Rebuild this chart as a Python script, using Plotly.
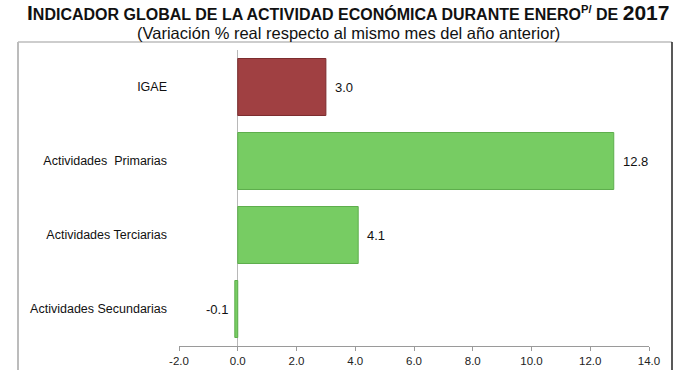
import plotly.graph_objects as go

categories = ["IGAE", "Actividades  Primarias", "Actividades Terciarias", "Actividades Secundarias"]
values = [3.0, 12.8, 4.1, -0.1]
value_labels = ["3.0", "12.8", "4.1", "-0.1"]
bar_colors = ["#a04042", "#77cc63", "#77cc63", "#77cc63"]
line_colors = ["#7c2c2e", "#5eae4c", "#5eae4c", "#5eae4c"]
tick_vals = [-2, 0, 2, 4, 6, 8, 10, 12, 14]
tick_text = ["-2.0", "0.0", "2.0", "4.0", "6.0", "8.0", "10.0", "12.0", "14.0"]

FONT = "Liberation Sans, Arial, sans-serif"

W, H = 700, 370

fig = go.Figure()
fig.add_trace(go.Bar(
    y=categories, x=values, orientation="h",
    marker=dict(color=bar_colors, line=dict(color=line_colors, width=1)),
    width=0.77,
    hoverinfo="skip",
))

# plot area in reference pixel coords: x 179..649, y 50..346
L, R, T, B = 179, W - 649, 50, H - 346
PW = W - L - R
PH = H - T - B

def px_x(x):
    return (x - L) / PW

def px_y(y):
    return (H - B - y) / PH

value_annotations = [
    dict(x=v, y=c, xref="x", yref="y", text=t, showarrow=False,
         xanchor="left" if v >= 0 else "right", yanchor="middle",
         xshift=7 if v >= 0 else -5,
         font=dict(size=13, family=FONT, color="#111111"))
    for c, v, t in zip(categories, values, value_labels)
]

fig.update_layout(
    width=W, height=H,
    margin=dict(l=L, r=R, t=T, b=B, autoexpand=False),
    paper_bgcolor="white", plot_bgcolor="white",
    showlegend=False,
    font=dict(family=FONT, color="#111111"),
    xaxis=dict(
        range=[-2, 14], tickvals=tick_vals, ticktext=tick_text,
        showgrid=False, zeroline=True, zerolinecolor="#b8b8b8", zerolinewidth=1,
        showline=True, linecolor="#9a9a9a", linewidth=1,
        ticks="outside", ticklen=4, tickcolor="#9a9a9a",
        tickfont=dict(size=11.5, color="#222222", family=FONT),
        automargin=False, fixedrange=True,
    ),
    yaxis=dict(
        categoryorder="array", categoryarray=categories, autorange="reversed",
        showgrid=False, zeroline=False, showline=False, ticks="",
        ticklabelstandoff=11,
        tickfont=dict(size=12.5, color="#111111", family=FONT),
        automargin=False, fixedrange=True,
    ),
    shapes=[
        dict(type="line", xref="paper", yref="paper",
             x0=px_x(18), x1=px_x(18), y0=px_y(42), y1=px_y(380),
             line=dict(color="#bcbcbc", width=2)),
        dict(type="line", xref="paper", yref="paper",
             x0=px_x(18), x1=px_x(672), y0=px_y(42), y1=px_y(42),
             line=dict(color="#bcbcbc", width=1.5)),
        dict(type="line", xref="paper", yref="paper",
             x0=px_x(672), x1=px_x(672), y0=px_y(42), y1=px_y(380),
             line=dict(color="#222222", width=1.5)),
    ],
    annotations=[
        dict(xref="paper", yref="paper", x=px_x(348), y=px_y(12),
             xanchor="center", yanchor="middle", showarrow=False,
             text=("<b><span style='font-size:21px'>I</span>NDICADOR GLOBAL DE LA ACTIVIDAD "
                   "ECONÓMICA DURANTE ENERO<sup>P/</sup> DE <span style='font-size:21px'>2017</span></b>"),
             font=dict(size=16, family=FONT, color="#111111")),
        dict(xref="paper", yref="paper", x=px_x(348), y=px_y(33),
             xanchor="center", yanchor="middle", showarrow=False,
             text="(Variación % real respecto al mismo mes del año anterior)",
             font=dict(size=16.5, family=FONT, color="#111111")),
    ] + value_annotations,
)

fig.write_html(
    "out.html",
    config={"displayModeBar": False, "staticPlot": True},
    post_script="document.body.style.margin='0';document.body.style.overflow='hidden';",
)
